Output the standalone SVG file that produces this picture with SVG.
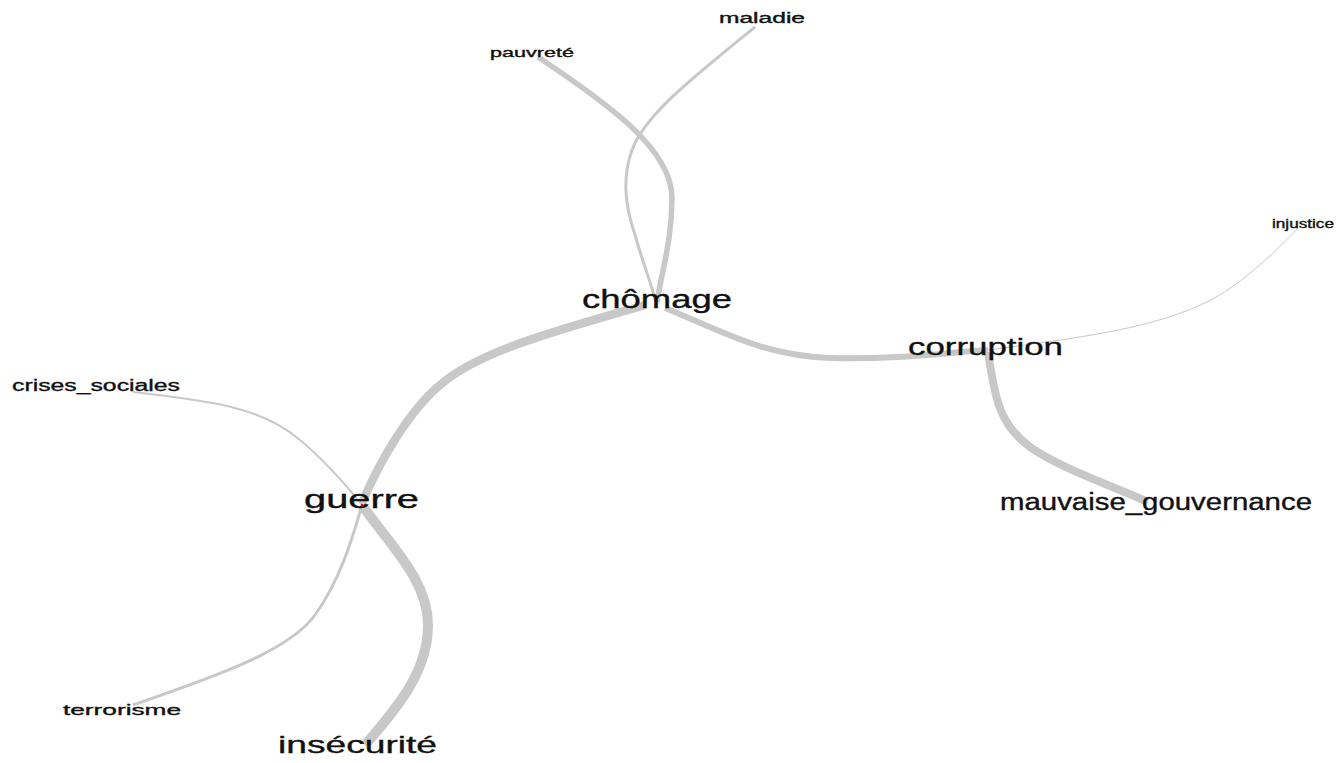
<svg xmlns="http://www.w3.org/2000/svg" width="1337" height="763" viewBox="0 0 1337 763">
<style>
.e{fill:none;stroke:#c8c8c8;stroke-linecap:butt}
.t{font-family:"Liberation Sans",Arial,sans-serif;fill:#111;stroke:#111;stroke-width:0.35}
</style>
<rect width="1337" height="763" fill="#fff"/>
<g id="edges">
<path class="e" stroke-width="5.5" d="M538,57 C610,105 672,150 672,198 C672,240 662,270 657,302"/>
<path class="e" stroke-width="3" d="M755,27 C690,80 645,115 632,150 C622,178 625,205 635,235 C642,260 650,280 656,302"/>
<path class="e" stroke-width="8.5" d="M645,305 C560,330 480,350 440,385 C410,410 380,460 362,503"/>
<path class="e" stroke-width="10" d="M362,505 C390,545 428,580 428,625 C428,670 400,705 365,745"/>
<path class="e" stroke-width="2" d="M133,392 C200,400 260,405 300,440 C330,465 350,490 362,505"/>
<path class="e" stroke-width="3" d="M133,705 C220,675 290,650 315,615 C340,580 352,540 362,505"/>
<path class="e" stroke-width="6" d="M665,308 C720,330 760,355 830,358 C900,360 950,352 988,350"/>
<path class="e" stroke-width="8" d="M988,352 C995,400 1000,425 1030,447 C1060,468 1110,485 1148,502"/>
<path class="e" stroke-width="1" d="M988,350 C1100,335 1180,325 1235,285 C1265,262 1285,242 1298,228"/>
</g>
<g id="node-maladie"><text class="t" x="719" y="23" font-size="14" textLength="86" lengthAdjust="spacingAndGlyphs">maladie</text></g>
<g id="node-pauvrete"><text class="t" x="490" y="57" font-size="13" textLength="84" lengthAdjust="spacingAndGlyphs">pauvreté</text></g>
<g id="node-chomage"><text class="t" x="582" y="308" font-size="25" textLength="150" lengthAdjust="spacingAndGlyphs">chômage</text></g>
<g id="node-injustice"><text class="t" x="1272" y="228" font-size="12" textLength="62" lengthAdjust="spacingAndGlyphs">injustice</text></g>
<g id="node-corruption"><text class="t" x="908" y="355" font-size="24" textLength="155" lengthAdjust="spacingAndGlyphs">corruption</text></g>
<g id="node-mauvaise_gouvernance"><text class="t" x="1000" y="510" font-size="23" textLength="312" lengthAdjust="spacingAndGlyphs">mauvaise_gouvernance</text></g>
<g id="node-crises_sociales"><text class="t" x="12" y="391" font-size="16" textLength="168" lengthAdjust="spacingAndGlyphs">crises_sociales</text></g>
<g id="node-guerre"><text class="t" x="304" y="508" font-size="25" textLength="115" lengthAdjust="spacingAndGlyphs">guerre</text><circle cx="362" cy="505" r="1.2" fill="#e00"/></g>
<g id="node-terrorisme"><text class="t" x="63" y="715" font-size="15" textLength="118" lengthAdjust="spacingAndGlyphs">terrorisme</text></g>
<g id="node-insecurite"><text class="t" x="278" y="753" font-size="24" textLength="159" lengthAdjust="spacingAndGlyphs">insécurité</text></g>
</svg>
